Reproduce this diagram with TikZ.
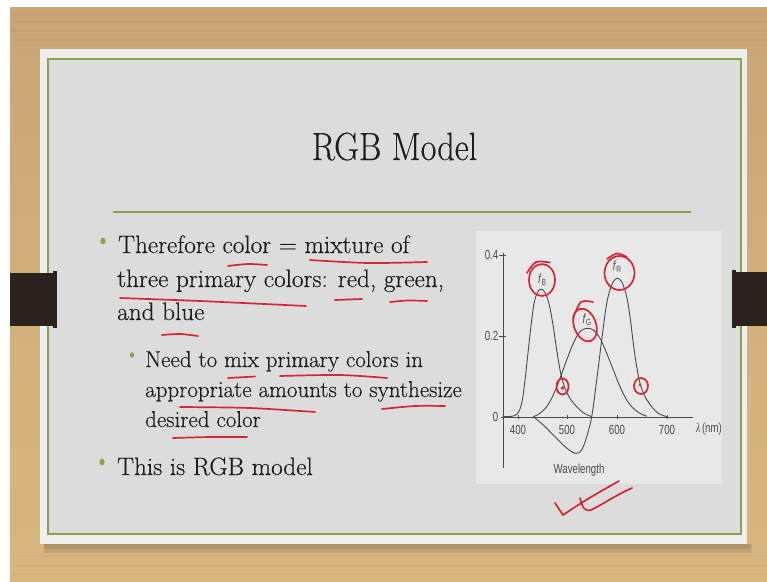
\documentclass[tikz,border=0pt]{standalone}
\usepackage{fontspec}
\newfontfamily\bodyfont{lmroman17-regular.otf}[FakeBold=0.35]
\newfontfamily\chartfont{Liberation Sans}
\newfontfamily\greekfont{Liberation Serif}
\newcommand{\narrowtxt}[1]{\scalebox{0.88}[1.2]{#1}}
\definecolor{woodtop}{HTML}{C9A676}
\definecolor{woodbot}{HTML}{D8B87F}
\definecolor{slideedge}{HTML}{EEEEEE}
\definecolor{slidebg}{HTML}{DCDCDC}
\definecolor{panelbg}{HTML}{E8E8E8}
\definecolor{olive}{HTML}{8BA24C}
\definecolor{clipcol}{HTML}{2B211D}
\definecolor{inkcol}{HTML}{1E1E1E}
\definecolor{pen}{HTML}{D42636}
\definecolor{curvecol}{HTML}{4A4A4A}
\tikzset{
  lvlone/.style={anchor=base west, inner sep=0pt, text=inkcol, font=\bodyfont\fontsize{25.2}{30}\selectfont},
  lvltwo/.style={anchor=base west, inner sep=0pt, text=inkcol, font=\bodyfont\fontsize{23}{27}\selectfont},
  penline/.style={draw=pen, line width=1.7pt, line cap=round, line join=round},
  curve/.style={draw=curvecol, line width=0.9pt},
  axisline/.style={draw=curvecol, line width=0.8pt},
  ticklab/.style={inner sep=0pt, text=curvecol, font=\chartfont\fontsize{11}{12}\selectfont},
  flab/.style={inner sep=0pt, text=curvecol, font=\chartfont\fontsize{11}{12}\selectfont}
}
\begin{document}
\begin{tikzpicture}[x=1pt,y=-1pt]
\useasboundingbox (0,0) rectangle (767,581);
% background
\fill[white] (0,0) rectangle (767,581);
\shade[top color=woodtop, bottom color=woodbot] (10,7) rectangle (767,581);
\foreach \yy/\op in {14/0.08,22/0.06,31/0.07,40/0.05,556/0.06,566/0.05,574/0.07}{
  \draw[brown!70!black, opacity=\op, line width=2pt] (10,\yy) -- (767,\yy);
}
% slide shadow
\fill[black, opacity=0.10] (44,544) rectangle (752,553);
\fill[black, opacity=0.10] (44,544) rectangle (750,549);
% slide
\fill[slideedge] (40,49) rectangle (747,544);
\fill[slidebg] (48,59) rectangle (741,534);
\draw[olive, line width=1.3pt] (48,59) rectangle (741,534);
% clips
\fill[clipcol] (10,273) rectangle (55,326);
\fill[clipcol] (53,271) rectangle (57,328);
\fill[clipcol] (734,272) rectangle (767,326);
\fill[clipcol] (732,270) rectangle (736,328);
% title
\node[inner sep=0pt, anchor=base, text=inkcol] (title) at (394.5,160)
  {\scalebox{1}[1.15]{\bodyfont\fontsize{34.2}{34}\selectfont RGB Model}};
\draw[olive, line width=1.3pt] (113,212) -- (691,212);
% bullets
\fill[olive] (103,241) ellipse [x radius=2.6, y radius=3.3];
\fill[olive] (132,355) ellipse [x radius=2.1, y radius=2.7];
\fill[olive] (102,462) ellipse [x radius=2.6, y radius=3.3];
% body text
\node[lvlone] (l1) at (118,253) {Therefore color = mixture of};
\node[lvlone] (l2) at (117,287) {three primary colors: red, green,};
\node[lvlone] (l3) at (117,320) {and blue};
\node[lvltwo] (s1) at (145,367) {Need to mix primary colors in};
\node[lvltwo] (s2) at (145,397) {appropriate amounts to synthesize};
\node[lvltwo] (s3) at (145,427) {desired color};
\node[lvlone] (l4) at (117,475) {This is RGB model};
% chart panel
\fill[panelbg] (476,231) rectangle (722,484);
% axes
\coordinate (ytop) at (503,253);
\coordinate (ybot) at (503,468);
\coordinate (xl) at (501,417);
\coordinate (xr) at (693,417);
\draw[axisline] (ytop) -- (ybot);
\draw[axisline] (xl) -- (xr);
\foreach \yy in {255,336}{\draw[axisline] (499,\yy) -- (506,\yy);}
\foreach \xx in {518,567,617,667}{\draw[axisline] (\xx,415) -- (\xx,419);}
\node[ticklab, anchor=east] (t04) at (498.5,255) {\narrowtxt{0.4}};
\node[ticklab, anchor=east] (t02) at (498.5,336) {\narrowtxt{0.2}};
\node[ticklab, anchor=east] (t00) at (498.5,417) {\narrowtxt{0}};
\node[ticklab] (x400) at (518,430) {\narrowtxt{400}};
\node[ticklab] (x500) at (567,430) {\narrowtxt{500}};
\node[ticklab] (x600) at (617,430) {\narrowtxt{600}};
\node[ticklab] (x700) at (667,430) {\narrowtxt{700}};
\node[ticklab, anchor=west] (xunit) at (696,429.5) {\narrowtxt{{\greekfont\itshape λ}\,(nm)}};
\node[ticklab] (wl) at (579,470) {\narrowtxt{Wavelength}};
% curves
\draw[curve] plot[smooth, tension=0.55] coordinates {
 (503.3,416.7) (511.7,416.3) (516.7,414.3) (520,409) (522.7,398) (525.3,378)
 (528.3,350) (531.7,320) (535,299) (540,289.3) (545,292.5) (549.3,305)
 (553.3,326.7) (556.7,350) (560.7,373.3) (565,388.3) (570,398.3) (576.7,406.7)
 (583.3,412.7) (591.7,416.7)};
\draw[curve] plot[smooth, tension=0.55] coordinates {
 (533.3,416.7) (540,413.3) (546.7,406.7) (553.3,395) (560,378.3) (566.7,360)
 (573.3,343.3) (580,331.7) (586.7,328.3) (593.3,330) (600,338.3) (606.7,353.3)
 (613.3,370) (620,386.7) (626.7,400) (633.3,408.3) (640,413.3) (646.7,416.3)};
\draw[curve] plot[smooth, tension=0.55] coordinates {
 (533.3,416.7) (543.3,425) (553.3,435) (563.3,445) (571.7,451.7) (576.7,453.3)
 (581.7,450) (586.7,436.7) (591.7,416.7) (596.7,380) (601.7,340) (606.7,303.3)
 (611.7,285) (616.7,278.3) (621.7,281.7) (626.7,296.7) (630,316.7) (633.3,343.3)
 (636.7,366.7) (640,383.3) (645,396.7) (651.7,406.7) (658.3,413.3) (666.7,416.7)};
% curve labels
\node[flab] (fB) at (542,280) {\narrowtxt{\textit{f}\raisebox{-2pt}{\fontsize{7.5}{8}\selectfont B}}};
\node[flab] (fG) at (587,320) {\narrowtxt{\textit{f}\raisebox{-2pt}{\fontsize{7.5}{8}\selectfont G}}};
\node[flab] (fR) at (617,267) {\narrowtxt{\textit{f}\raisebox{-2pt}{\fontsize{7.5}{8}\selectfont R}}};
% pen annotations on chart
\draw[penline] (542,280) ellipse [x radius=13, y radius=16];
\draw[penline] plot[smooth] coordinates {(527,273) (536,262) (550,262.5)};
\draw[penline, rotate around={20:(585,325)}] (585,325) ellipse [x radius=11, y radius=17];
\draw[penline] plot[smooth] coordinates {(573,318) (581,302) (593,302)};
\draw[penline] (619.5,273) ellipse [x radius=15, y radius=17];
\draw[penline] plot[smooth] coordinates {(607,259) (617,253.5) (627,257)};
\draw[penline] (562.5,386.5) ellipse [x radius=6, y radius=8];
\fill[pen] (562.5,388) circle (1.8);
\draw[penline] (641,386) ellipse [x radius=7, y radius=8];
\fill[pen] (640,385) circle (1.5);
% check strokes
\draw[penline] (555,503) -- (563,515) .. controls (585,500) and (603,490) .. (619,481);
\draw[penline] (580,498) .. controls (582,506) and (584,512) .. (591,510) .. controls (605,503) and (618,494) .. (632,488);
% pen underlines in text
\draw[penline] plot[smooth] coordinates {(228,266) (248,264) (267,265)};
\draw[penline] plot[smooth] coordinates {(310,260) (368,263) (427,262)};
\draw[penline] plot[smooth] coordinates {(120,298) (200,301) (306,306)};
\draw[penline] (335,300) -- (362,299);
\draw[penline] plot[smooth] coordinates {(390,302) (408,300.5) (427,301)};
\draw[penline] plot[smooth] coordinates {(162,335) (180,334) (198,336)};
\draw[penline] (228,378) -- (255,376.5);
\draw[penline] plot[smooth] coordinates {(280,376) (340,375) (387,378)};
\draw[penline] plot[smooth] coordinates {(180,407) (250,408) (315,412)};
\draw[penline] plot[smooth] coordinates {(382,409) (415,406) (445,406)};
\draw[penline] plot[smooth] coordinates {(173,438) (210,437) (247,437)};
\end{tikzpicture}
\end{document}
